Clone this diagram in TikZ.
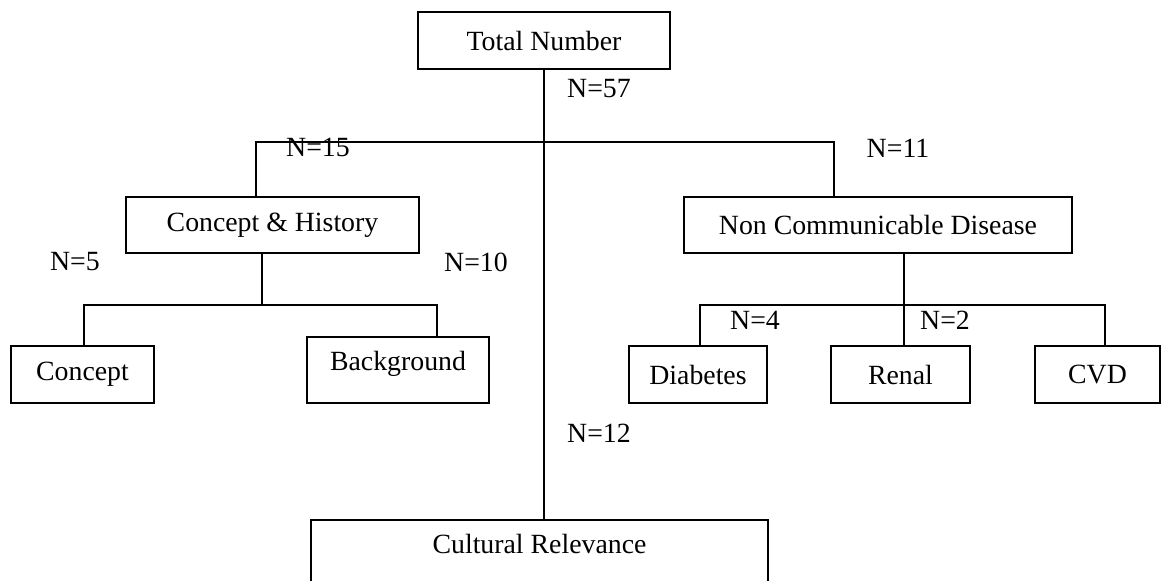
\documentclass[tikz,border=0pt]{standalone}
\usepackage{fontspec}
\setmainfont{Liberation Serif}
\usetikzlibrary{positioning, calc}
\tikzset{
  cat/.style  = {rectangle, draw=black, line width=0.8pt, inner sep=0pt, align=center, font=\fontsize{13.9}{16}\selectfont},
  cnt/.style  = {inner sep=0pt, font=\fontsize{13.9}{16}\selectfont},
  link/.style = {draw=black, line width=0.8pt},
}

\begin{document}
\begin{tikzpicture}[x=0.5pt, y=-0.5pt]

% 画布（像素坐标，y 向下）
\clip (0,0) rectangle (1162,580);

% === 类别框 ===
\node[cat, minimum width=126pt, minimum height=28.5pt] (total)   at (544,40.5)   {Total Number};
\node[cat, minimum width=146.5pt, minimum height=28pt] (hist)    at (272.5,225)  {Concept \& History};
\node[cat, minimum width=194pt, minimum height=28pt]   (ncd)     at (878,225)    {Non Communicable Disease};
\node[cat, minimum width=71.5pt, minimum height=28.5pt] (concept) at (82.5,374.5) {Concept};
\node[cat, minimum width=91pt, minimum height=33pt, text height=9.5pt, text depth=9.5pt] (backgr) at (398,370) {Background};
\node[cat, minimum width=69pt, minimum height=28.5pt]  (diab)    at (698,374.5)  {Diabetes};
\node[cat, minimum width=69.5pt, minimum height=28.5pt] (renal)  at (900.5,374.5) {Renal};
\node[cat, minimum width=62.5pt, minimum height=28.5pt] (cvd)    at (1097.5,374.5) {CVD};
\node[cat, minimum width=228.5pt, minimum height=40pt, text height=10pt, text depth=17pt] (cult) at (539.5,560) {Cultural Relevance};

% === 分支点 ===
\coordinate (busL)  at (256,142);
\coordinate (busR)  at (834,142);
\coordinate (hjoin) at (262,305);
\coordinate (subL1) at (84,305);
\coordinate (subL2) at (437,305);
\coordinate (njoin) at (904,305);
\coordinate (subR1) at (700,305);
\coordinate (subR2) at (1105,305);

% === 连线 ===
\draw[link] (total.south) -- (total.south |- cult.north);
\draw[link] (busL |- hist.north) -- (busL) -- (busR) -- (busR |- ncd.north);
\draw[link] (hjoin |- hist.south) -- (hjoin);
\draw[link] (subL1 |- concept.north) -- (subL1) -- (subL2) -- (subL2 |- backgr.north);
\draw[link] (njoin |- ncd.south) -- (njoin |- renal.north);
\draw[link] (subR1 |- diab.north) -- (subR1) -- (subR2) -- (subR2 |- cvd.north);

% === 数量标注 ===
\node[cnt] (n57) at (599,89)  {N=57};
\node[cnt] (n15) at (318,147) {N=15};
\node[cnt] (n11) at (898,148) {N=11};
\node[cnt] (n5)  at (75,262)  {N=5};
\node[cnt] (n10) at (476,262) {N=10};
\node[cnt] (n4)  at (755,320) {N=4};
\node[cnt] (n2)  at (945,320) {N=2};
\node[cnt] (n12) at (599,433) {N=12};

\end{tikzpicture}
\end{document}
